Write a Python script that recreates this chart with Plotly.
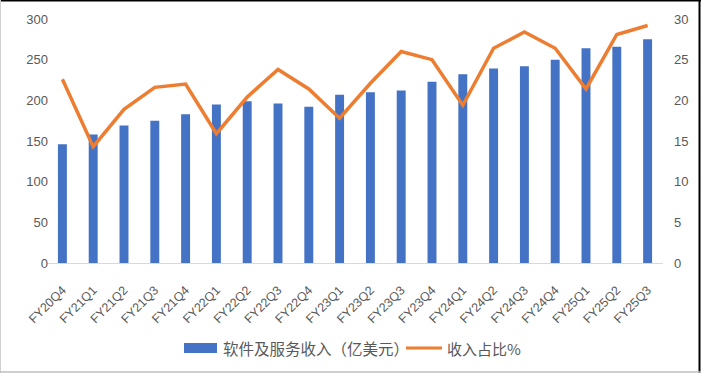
import plotly.graph_objects as go

categories = ["FY20Q4", "FY21Q1", "FY21Q2", "FY21Q3", "FY21Q4", "FY22Q1", "FY22Q2",
              "FY22Q3", "FY22Q4", "FY23Q1", "FY23Q2", "FY23Q3", "FY23Q4", "FY24Q1",
              "FY24Q2", "FY24Q3", "FY24Q4", "FY25Q1", "FY25Q2", "FY25Q3"]
revenue = [146, 158, 169, 175, 183, 195, 199, 196, 192, 207,
           210, 212, 223, 232, 239, 242, 250, 264, 266, 275]
share_pct = [22.6, 14.3, 18.9, 21.6, 22.0, 15.9, 20.4, 23.8, 21.4, 17.8,
             22.1, 26.0, 25.0, 19.4, 26.4, 28.4, 26.4, 21.4, 28.1, 29.2]
bar_name = "软件及服务收入（亿美元）"
line_name = "收入占比%"

W, H = 701, 373
L, R, T, B = 47, 38, 19, 110
pw, ph = W - L - R, H - T - B

font_family = "Liberation Sans, Arial, Noto Sans CJK SC, sans-serif"
cjk_family = "Noto Sans CJK SC, Liberation Sans, sans-serif"
tick_color = "#595959"
bar_color = "#4472C4"
line_color = "#ED7D31"

fig = go.Figure()
fig.add_trace(go.Bar(x=categories, y=revenue, name=bar_name,
                     marker=dict(color=bar_color, line=dict(width=0)), yaxis="y"))
fig.add_trace(go.Scatter(x=categories, y=share_pct, name=line_name, mode="lines",
                         line=dict(color=line_color, width=3.5), yaxis="y2"))

def px_x(p):
    return (p - L) / pw

def px_y(p):
    return (H - p - B) / ph

shapes = [
    # chart border
    dict(type="line", xref="paper", yref="paper", x0=px_x(0), x1=px_x(W), y0=px_y(0.5), y1=px_y(0.5),
         line=dict(color="#000000", width=2)),
    dict(type="line", xref="paper", yref="paper", x0=px_x(699.5), x1=px_x(699.5), y0=px_y(0), y1=px_y(H),
         line=dict(color="#000000", width=2)),
    dict(type="line", xref="paper", yref="paper", x0=px_x(0.5), x1=px_x(0.5), y0=px_y(0), y1=px_y(H),
         line=dict(color="#D0D0D0", width=1)),
    dict(type="line", xref="paper", yref="paper", x0=px_x(0), x1=px_x(W), y0=px_y(372), y1=px_y(372),
         line=dict(color="#BFBFBF", width=1.5)),
    # legend symbols
    dict(type="rect", xref="paper", yref="paper", x0=px_x(184), x1=px_x(217), y0=px_y(353), y1=px_y(343),
         fillcolor=bar_color, line=dict(width=0)),
    dict(type="line", xref="paper", yref="paper", x0=px_x(406), x1=px_x(442), y0=px_y(348), y1=px_y(348),
         line=dict(color=line_color, width=3)),
]

annotations = [
    dict(text=bar_name, xref="paper", yref="paper", x=px_x(221), y=px_y(348), xanchor="left",
         yanchor="middle", showarrow=False, font=dict(family=cjk_family, size=15.5, color=tick_color)),
    dict(text=line_name, xref="paper", yref="paper", x=px_x(445), y=px_y(348), xanchor="left",
         yanchor="middle", showarrow=False, font=dict(family=cjk_family, size=15, color=tick_color)),
]

fig.update_layout(
    width=W, height=H,
    margin=dict(l=L, r=R, t=T, b=B, pad=0),
    paper_bgcolor="white", plot_bgcolor="white",
    font=dict(family=font_family, color=tick_color, size=12),
    bargap=0.71,
    showlegend=False,
    xaxis=dict(type="category", tickangle=-45, showgrid=False, showline=True,
               linecolor="#D9D9D9", linewidth=1, ticks="", ticklabelstandoff=14,
               tickfont=dict(size=12.5, color=tick_color)),
    yaxis=dict(range=[0, 300], dtick=50, showgrid=False, zeroline=False, showline=False,
               ticks="", tickfont=dict(size=13, color=tick_color), ticklabelstandoff=-2),
    yaxis2=dict(range=[0, 30], dtick=5, overlaying="y", side="right", showgrid=False,
                zeroline=False, showline=False, ticks="", tickfont=dict(size=13, color=tick_color),
                ticklabelstandoff=10),
    shapes=shapes,
    annotations=annotations,
)

fig.write_html("out.html")
